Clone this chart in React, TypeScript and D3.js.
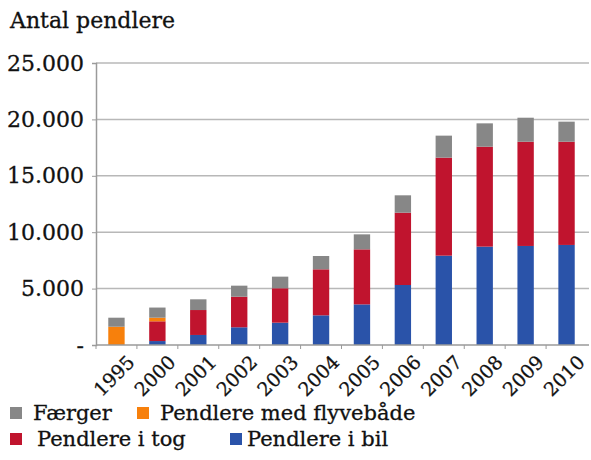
import React, { useEffect, useRef } from 'react';
import * as d3 from 'd3';

const years = ['1995', '2000', '2001', '2002', '2003', '2004', '2005', '2006', '2007', '2008', '2009', '2010'];
const bil = [0, 350, 890, 1570, 1980, 2630, 3600, 5320, 7920, 8720, 8780, 8870];
const tog = [0, 1750, 2210, 2710, 3050, 4080, 4880, 6410, 8690, 8860, 9240, 9150];
const flyvebaade = [1620, 320, 0, 0, 0, 0, 0, 0, 0, 0, 0, 0];
const faerger = [800, 900, 950, 980, 1030, 1180, 1330, 1540, 1950, 2070, 2130, 1780];
const yTicks = [0, 5000, 10000, 15000, 20000, 25000];

const seriesKeys = ['bil', 'tog', 'flyvebaade', 'faerger'];
const seriesNames = {
  bil: 'Pendlere i bil',
  tog: 'Pendlere i tog',
  flyvebaade: 'Pendlere med flyvebåde',
  faerger: 'Færger',
};
const colors = {
  bil: '#2a53a9',
  tog: '#c0142e',
  flyvebaade: '#f7800c',
  faerger: '#878787',
};

const FONT = '"DejaVu Serif", serif';

const App = () => {
  const ref = useRef<SVGSVGElement>(null);

  useEffect(() => {
    const svg = d3.select(ref.current);
    svg.selectAll('*').remove();

    const width = 591;
    const margin = { top: 63, right: 4, bottom: 115, left: 96 };
    const height = 460;

    const data = years.map((y, i) => ({
      year: y,
      bil: bil[i],
      tog: tog[i],
      flyvebaade: flyvebaade[i],
      faerger: faerger[i],
    }));

    const x = d3.scaleBand()
      .domain(years)
      .range([margin.left, width - margin.right])
      .paddingInner(0.6)
      .paddingOuter(0.3);

    const y = d3.scaleLinear()
      .domain([0, 25000])
      .range([height - margin.bottom, margin.top]);

    const locale = d3.formatLocale({ decimal: ',', thousands: '.', grouping: [3], currency: ['', ''] });
    const fmt = locale.format(',');

    // title
    svg.append('text')
      .attr('x', 10)
      .attr('y', 28)
      .attr('font-family', FONT)
      .attr('font-size', 22)
      .attr('fill', '#111')
      .attr('stroke', '#111')
      .attr('stroke-width', 0.3)
      .text('Antal pendlere');

    // gridlines
    svg.append('g')
      .selectAll('line')
      .data(yTicks.filter(d => d > 0))
      .enter().append('line')
      .attr('x1', margin.left)
      .attr('x2', width - 2)
      .attr('y1', d => y(d))
      .attr('y2', d => y(d))
      .attr('stroke', '#b8b8b8')
      .attr('stroke-width', 1.5);

    // y axis
    const yAxis = svg.append('g')
      .attr('transform', `translate(${margin.left},0)`)
      .call(d3.axisLeft(y).tickValues(yTicks).tickSize(4).tickPadding(8)
        .tickFormat(d => (d === 0 ? '-' : fmt(d as number))));
    yAxis.select('.domain').attr('stroke', '#9a9a9a').attr('stroke-width', 1.5);
    yAxis.selectAll('.tick line').attr('stroke', '#9a9a9a');
    yAxis.selectAll('text')
      .attr('font-family', FONT)
      .attr('font-size', 22)
      .attr('fill', '#111')
      .attr('stroke', '#111')
      .attr('stroke-width', 0.3);

    // bars
    const stack = d3.stack().keys(seriesKeys);
    const stacked = stack(data as any);

    svg.append('g')
      .selectAll('g')
      .data(stacked)
      .enter().append('g')
      .attr('fill', d => colors[d.key])
      .selectAll('rect')
      .data(d => d)
      .enter().append('rect')
      .attr('x', d => x(d.data.year as string))
      .attr('y', d => y(d[1]))
      .attr('width', x.bandwidth())
      .attr('height', d => y(d[0]) - y(d[1]));

    // x axis
    const step = x.step();
    const bottom = height - margin.bottom;
    const xg = svg.append('g');
    xg.append('line')
      .attr('x1', margin.left)
      .attr('x2', width - 2)
      .attr('y1', bottom)
      .attr('y2', bottom)
      .attr('stroke', '#9a9a9a')
      .attr('stroke-width', 1.5);
    xg.selectAll('line.tk')
      .data(years)
      .enter().append('line')
      .attr('class', 'tk')
      .attr('x1', d => x(d)! + x.bandwidth() / 2 - step / 2)
      .attr('x2', d => x(d)! + x.bandwidth() / 2 - step / 2)
      .attr('y1', bottom)
      .attr('y2', bottom + 4)
      .attr('stroke', '#9a9a9a');
    xg.selectAll('text')
      .data(years)
      .enter().append('text')
      .attr('transform', d => `translate(${x(d)! + x.bandwidth() / 2 + 10},${bottom + 9}) rotate(-45)`)
      .attr('text-anchor', 'end')
      .attr('dy', '0.7em')
      .attr('font-family', FONT)
      .attr('font-size', 19)
      .attr('fill', '#111')
      .attr('stroke', '#111')
      .attr('stroke-width', 0.3)
      .text(d => d);

    // legend
    const legendItems = [
      { key: 'faerger', x: 10, y: 407, tx: 33 },
      { key: 'flyvebaade', x: 137, y: 407, tx: 160 },
      { key: 'tog', x: 10, y: 433, tx: 37 },
      { key: 'bil', x: 230, y: 433, tx: 247 },
    ];
    const legend = svg.append('g');
    legend.selectAll('rect')
      .data(legendItems)
      .enter().append('rect')
      .attr('x', d => d.x)
      .attr('y', d => d.y)
      .attr('width', 12)
      .attr('height', 12)
      .attr('fill', d => colors[d.key]);
    legend.selectAll('text')
      .data(legendItems)
      .enter().append('text')
      .attr('x', d => d.tx)
      .attr('y', d => d.y + 13)
      .attr('font-family', FONT)
      .attr('font-size', 21)
      .attr('fill', '#111')
      .attr('stroke', '#111')
      .attr('stroke-width', 0.3)
      .text(d => seriesNames[d.key]);
  }, []);

  return (
    <svg ref={ref} width="591" height="460" style={{ position: 'absolute', left: 0, top: 0, background: '#fff' }}></svg>
  );
};

export default App;
